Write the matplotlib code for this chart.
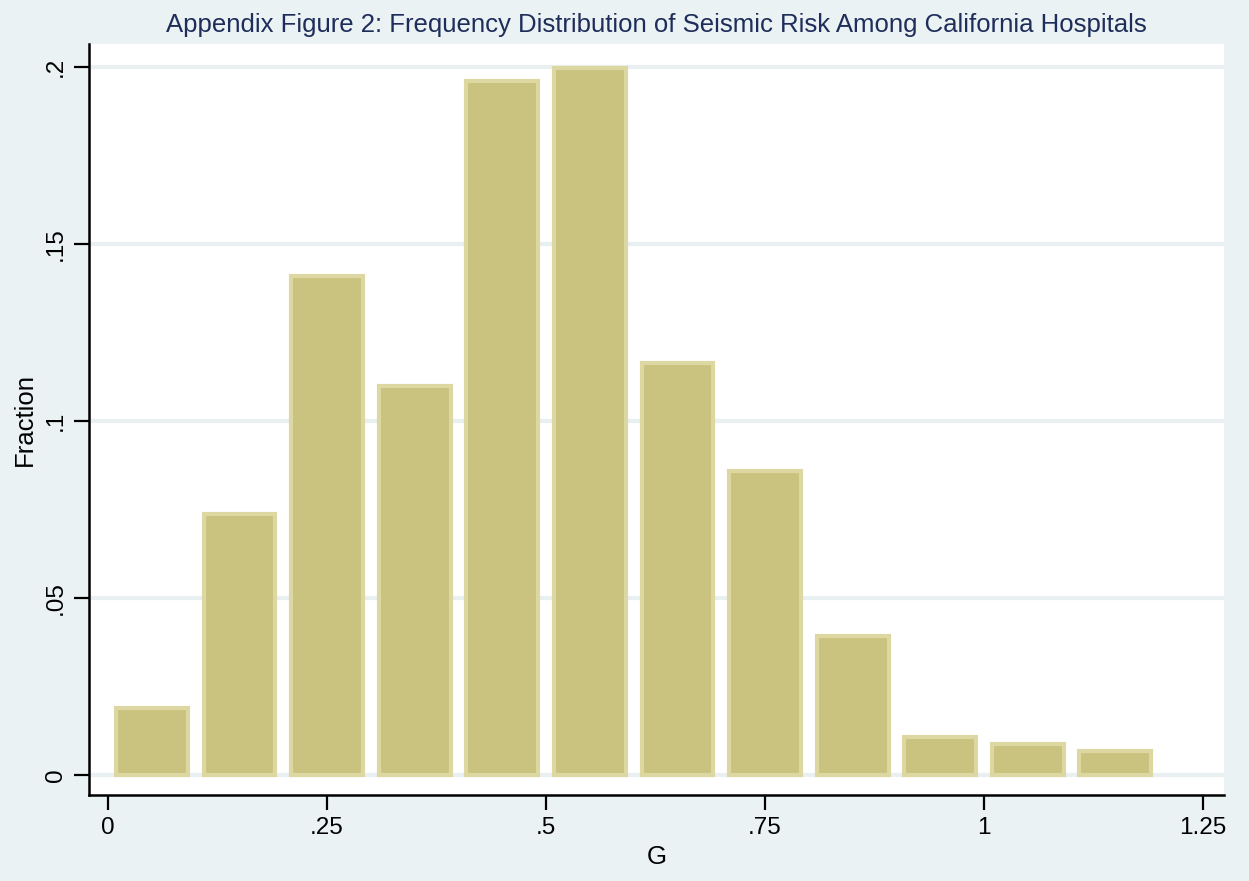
import matplotlib.pyplot as plt

plt.rcParams['font.family'] = ['Liberation Sans', 'DejaVu Sans']

# histogram of G, bin width 0.1
bin_centers = [0.05, 0.15, 0.25, 0.35, 0.45, 0.55, 0.65, 0.75, 0.85, 0.95, 1.05, 1.15]
fractions = [0.019, 0.0737, 0.141, 0.110, 0.196, 0.1997, 0.1164, 0.0859, 0.0393, 0.0107, 0.0088, 0.0068]

x_ticks = [0, 0.25, 0.5, 0.75, 1, 1.25]
x_ticklabels = ["0", ".25", ".5", ".75", "1", "1.25"]
y_ticks = [0, 0.05, 0.1, 0.15, 0.2]
y_ticklabels = ["0", ".05", ".1", ".15", ".2"]

bg = "#eaf2f3"
fig = plt.figure(figsize=(12.49, 8.81), dpi=100, facecolor=bg)
ax = fig.add_axes([0.0713, 0.0976, 0.9087, 0.8524])
ax.set_facecolor("white")

ax.bar(bin_centers, fractions, width=0.082, color="#cac27f",
       edgecolor="#ddd7a2", linewidth=3, zorder=3)

ax.set_xlim(-0.0217, 1.274)
ax.set_ylim(-0.00565, 0.2065)

ax.set_xticks(x_ticks)
ax.set_xticklabels(x_ticklabels)
ax.set_yticks(y_ticks)
ax.set_yticklabels(y_ticklabels, rotation=90, va="center")

ax.tick_params(axis="both", length=11, width=1.6, labelsize=17.5, pad=5, color="black")
ax.grid(axis="y", color="#e8f0f2", linewidth=3, zorder=0)
ax.set_axisbelow(True)

for s in ["top", "right"]:
    ax.spines[s].set_visible(False)
for s in ["left", "bottom"]:
    ax.spines[s].set_linewidth(1.8)

ax.set_xlabel("G", fontsize=18.5, labelpad=4)
ax.set_ylabel("Fraction", fontsize=18.5, labelpad=6)
ax.set_title("Appendix Figure 2: Frequency Distribution of Seismic Risk Among California Hospitals",
             fontsize=18.5, color="#1e2d5a", pad=9)

fig.savefig("out.png", dpi=100, facecolor=bg)
